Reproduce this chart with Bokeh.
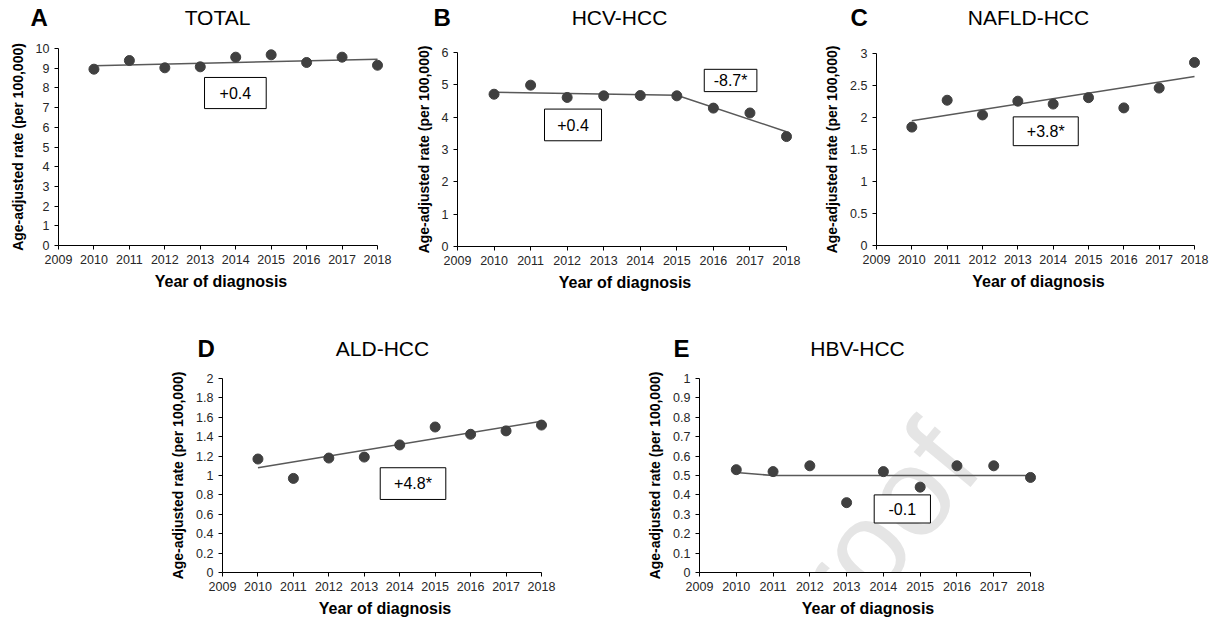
from bokeh.plotting import figure
from bokeh.models import Range1d, FixedTicker, CustomJSTickFormatter, Label, BoxAnnotation, Spacer
from bokeh.layouts import row, column
from bokeh.core.validation import silence
from bokeh.core.validation.warnings import MISSING_RENDERERS
from bokeh.embed import file_html
from bokeh.resources import INLINE

silence(MISSING_RENDERERS, True)

FONT = "Liberation Sans"

# ---------------- data ----------------
years = [2010, 2011, 2012, 2013, 2014, 2015, 2016, 2017, 2018]
x_ticks = [2009, 2010, 2011, 2012, 2013, 2014, 2015, 2016, 2017, 2018]

total_rate = [8.95, 9.39, 9.02, 9.07, 9.56, 9.68, 9.29, 9.56, 9.15]
total_trend_x = [2010, 2018]
total_trend_y = [9.13, 9.46]
total_apc = ["+0.4"]
total_yticks = [0, 1, 2, 3, 4, 5, 6, 7, 8, 9, 10]

hcv_rate = [4.71, 4.99, 4.61, 4.66, 4.67, 4.66, 4.28, 4.13, 3.40]
hcv_trend_x = [2010, 2015, 2018]
hcv_trend_y = [4.77, 4.68, 3.55]
hcv_apc = ["+0.4", "-8.7*"]
hcv_yticks = [0, 1, 2, 3, 4, 5, 6]

nafld_rate = [1.85, 2.27, 2.04, 2.255, 2.21, 2.31, 2.15, 2.46, 2.86]
nafld_trend_x = [2010, 2018]
nafld_trend_y = [1.95, 2.64]
nafld_apc = ["+3.8*"]
nafld_yticks = [0, 0.5, 1, 1.5, 2, 2.5, 3]

ald_rate = [1.17, 0.97, 1.18, 1.19, 1.315, 1.50, 1.425, 1.46, 1.52]
ald_trend_x = [2010, 2018]
ald_trend_y = [1.08, 1.56]
ald_apc = ["+4.8*"]
ald_yticks = [0, 0.2, 0.4, 0.6, 0.8, 1, 1.2, 1.4, 1.6, 1.8, 2]

hbv_rate = [0.53, 0.52, 0.55, 0.36, 0.52, 0.44, 0.55, 0.55, 0.49]
hbv_trend_x = [2010, 2011, 2018]
hbv_trend_y = [0.515, 0.50, 0.50]
hbv_apc = ["-0.1"]
hbv_yticks = [0, 0.1, 0.2, 0.3, 0.4, 0.5, 0.6, 0.7, 0.8, 0.9, 1]

letters = ["A", "B", "C", "D", "E"]
titles = ["TOTAL", "HCV-HCC", "NAFLD-HCC", "ALD-HCC", "HBV-HCC"]

Y_LABEL = "Age-adjusted rate (per 100,000)"
X_LABEL = "Year of diagnosis"

PAGE_W = 1216
TOP_H = 38
BOT_Y0 = 296
BOT_H = 66


def make_header(height, items):
    """items: (letter, title, letter_left_px, title_center_px, text_center_from_top_px)"""
    h = figure(width=PAGE_W, height=height, x_range=Range1d(0, PAGE_W), y_range=Range1d(0, height),
               min_border=0, output_backend="svg", toolbar_location=None)
    h.axis.visible = False
    h.xgrid.visible = False
    h.ygrid.visible = False
    h.outline_line_color = None
    for letter, title, lx, tx, ty in items:
        y = height - ty
        h.add_layout(Label(x=lx, y=y, text=letter, text_font=FONT, text_font_style="bold",
                           text_font_size="24px", text_color="#000000",
                           text_align="left", text_baseline="middle"))
        h.add_layout(Label(x=tx, y=y, text=title, text_font=FONT,
                           text_font_size="21px", text_color="#000000",
                           text_align="center", text_baseline="middle"))
    return h


def make_panel(rates, tx, ty, yticks, apcs, boxes, geom, watermark=None):
    fx0, fy0, fx1, fy1, ax0, ay0, ax1, ay1 = geom
    w9 = ax1 - ax0
    h = ay1 - ay0
    extra = 6
    y_max = yticks[-1]
    x_end = 2018 + extra * 9.0 / w9

    def to_data(px, py):
        return 2009 + (px - ax0) * 9.0 / w9, y_max * (ay1 - py) / h

    p = figure(frame_width=w9 + extra, frame_height=h,
               min_border_left=ax0 - fx0, min_border_right=fx1 - ax1 - extra,
               min_border_top=ay0 - fy0, min_border_bottom=fy1 - ay1,
               x_range=Range1d(2009, x_end), y_range=Range1d(0, y_max),
               output_backend="svg", toolbar_location=None)
    p.outline_line_color = None
    p.xgrid.visible = False
    p.ygrid.visible = False

    p.xaxis.ticker = FixedTicker(ticks=x_ticks)
    p.yaxis.ticker = FixedTicker(ticks=yticks)
    p.xaxis.bounds = (2009, 2018)
    p.yaxis.bounds = (0, y_max)
    p.yaxis.formatter = CustomJSTickFormatter(code="return String(parseFloat(tick.toFixed(2)));")
    p.xaxis.axis_label = X_LABEL
    p.yaxis.axis_label = Y_LABEL
    for ax in (p.xaxis[0], p.yaxis[0]):
        ax.axis_line_color = "#000000"
        ax.axis_line_width = 1
        ax.major_tick_line_color = "#000000"
        ax.major_tick_out = 4
        ax.major_tick_in = 0
        ax.minor_tick_out = 0
        ax.minor_tick_in = 0
        ax.major_label_text_font = FONT
        ax.major_label_text_font_size = "12.5px"
        ax.major_label_text_color = "#262626"
        ax.major_label_standoff = 5
        ax.axis_label_text_font = FONT
        ax.axis_label_text_font_style = "bold"
        ax.axis_label_text_color = "#000000"
    p.xaxis.axis_label_text_font_size = "16px"
    p.yaxis.axis_label_text_font_size = "14px"
    p.xaxis.axis_label_standoff = 6
    p.yaxis.axis_label_standoff = 7

    if watermark is not None:
        wx, wy = to_data(*watermark)
        p.add_layout(Label(x=wx, y=wy, text="proof", angle=0.88, text_font=FONT,
                           text_font_size="125px", text_color="#e5e5e5",
                           text_align="left", text_baseline="alphabetic",
                           level="underlay"))

    p.line(tx, ty, line_color="#595959", line_width=1.5)
    p.scatter(years, rates, size=10, fill_color="#404040", line_color="#404040")

    for txt, (l, r, b, t) in zip(apcs, boxes):
        p.add_layout(BoxAnnotation(left=l, right=r, bottom=b, top=t,
                                   fill_color="white", fill_alpha=1.0,
                                   line_color="#000000", line_width=1, line_alpha=1.0))
        p.add_layout(Label(x=(l + r) / 2, y=(b + t) / 2, text=txt, text_font=FONT,
                           text_font_size="16px", text_color="#000000",
                           text_align="center", text_baseline="middle"))
    return p


top_header = make_header(TOP_H, [
    (letters[0], titles[0], 30, 217, 17),
    (letters[1], titles[1], 433, 619, 17),
    (letters[2], titles[2], 850, 1028, 17),
])
bottom_header = make_header(BOT_H, [
    (letters[3], titles[3], 197, 382, 348 - BOT_Y0),
    (letters[4], titles[4], 673, 857, 348 - BOT_Y0),
])

pA = make_panel(total_rate, total_trend_x, total_trend_y, total_yticks,
                total_apc, [(2013.12, 2014.86, 6.95, 8.53)],
                (0, TOP_H, 400, BOT_Y0, 58, 48, 377, 245))
pB = make_panel(hcv_rate, hcv_trend_x, hcv_trend_y, hcv_yticks,
                hcv_apc, [(2011.38, 2012.94, 3.27, 4.25), (2015.75, 2017.19, 4.79, 5.48)],
                (400, TOP_H, 803, BOT_Y0, 457, 52, 786, 246))
pC = make_panel(nafld_rate, nafld_trend_x, nafld_trend_y, nafld_yticks,
                nafld_apc, [(2012.87, 2014.71, 1.56, 2.01)],
                (803, TOP_H, 1216, BOT_Y0, 876, 53, 1194, 245))
pD = make_panel(ald_rate, ald_trend_x, ald_trend_y, ald_yticks,
                ald_apc, [(2013.45, 2015.30, 0.753, 1.08)],
                (158, BOT_Y0 + BOT_H, 561, 632, 222, 378, 541, 572))
pE = make_panel(hbv_rate, hbv_trend_x, hbv_trend_y, hbv_yticks,
                hbv_apc, [(2013.75, 2015.28, 0.255, 0.40)],
                (628, BOT_Y0 + BOT_H, 1060, 632, 699, 378, 1030, 572),
                watermark=(770, 660))

BOT_ROW_H = 632 - BOT_Y0 - BOT_H
layout = column(
    top_header,
    row(column(pA), column(pB), column(pC)),
    bottom_header,
    row(Spacer(width=158, height=BOT_ROW_H), column(pD),
        Spacer(width=67, height=BOT_ROW_H), column(pE)),
)

open("out.html", "w").write(file_html(layout, INLINE))
